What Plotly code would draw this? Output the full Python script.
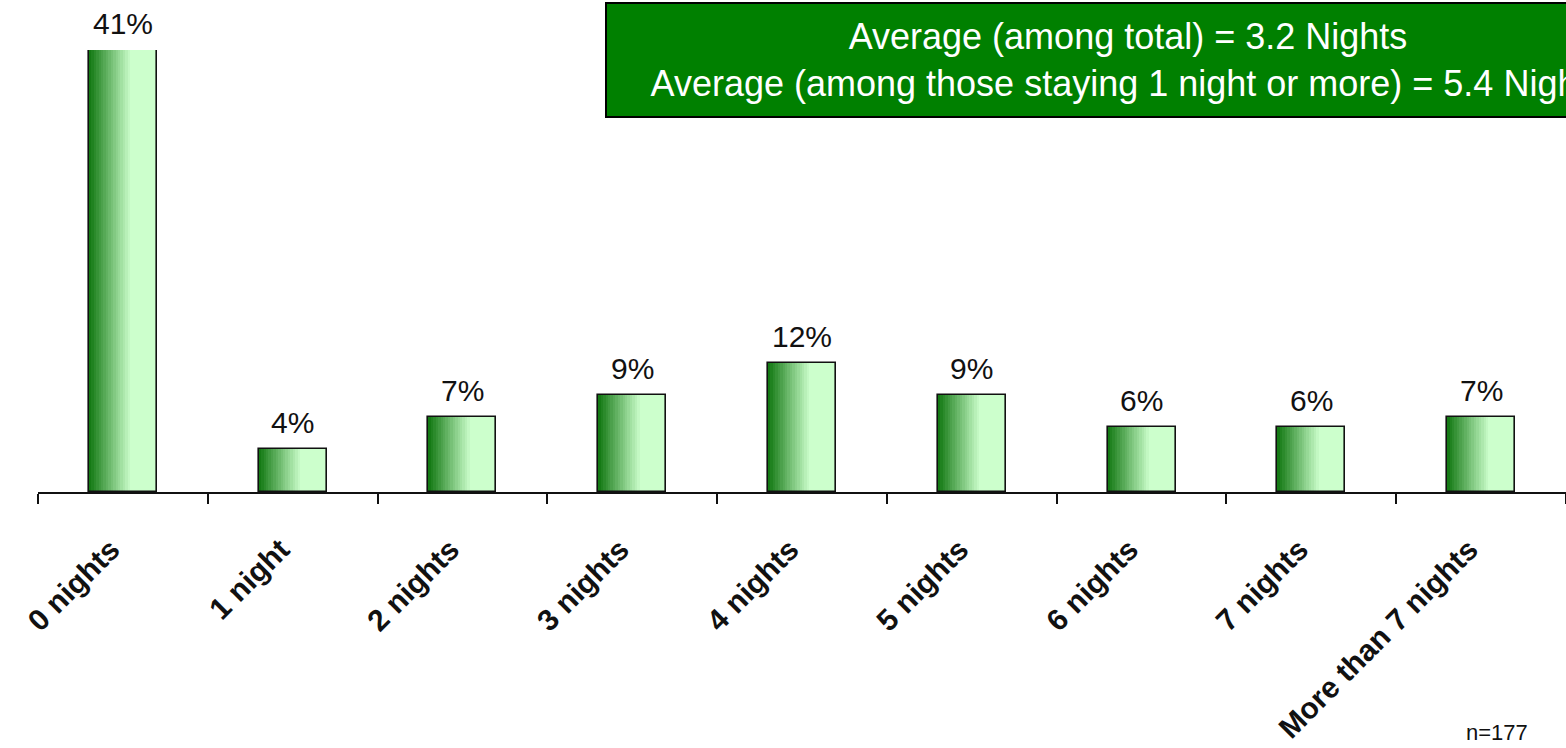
import plotly.graph_objects as go

# Nights stayed — share of respondents (%)
categories = ["0 nights", "1 night", "2 nights", "3 nights", "4 nights",
              "5 nights", "6 nights", "7 nights", "More than 7 nights"]
shares = [41, 4, 7, 9, 12, 9, 6, 6, 7]
value_labels = [f"{v}%" for v in shares]

summary_lines = ["Average (among total) = 3.2 Nights",
                 "Average (among those staying 1 night or more) = 5.4 Nights"]
sample_note = "n=177"

W, H = 1566, 748
M_L, M_R, M_T, M_B = 38, 0, 50, 256
FONT = "Liberation Sans, Arial, sans-serif"

BAR_W = 0.4
N_SLICES = 28
DARK = (16, 118, 16)
LIGHT = (204, 255, 204)
FADE_END = 0.62  # fraction of bar width where the gradient reaches the light tone


def blend(t):
    t = min(t / FADE_END, 1.0)
    r, g, b = (round(d + (l - d) * t) for d, l in zip(DARK, LIGHT))
    return f"rgb({r},{g},{b})"


fig = go.Figure()

# Horizontal gradient fill: thin overlapping bar slices, dark on the left
step = BAR_W / N_SLICES
for i in range(N_SLICES):
    off = -BAR_W / 2 + i * step
    w = min(step * 1.8, BAR_W / 2 - off)
    fig.add_trace(go.Bar(
        x=categories, y=shares, offset=off, width=w,
        marker=dict(color=blend((i + 0.5) / N_SLICES), line=dict(width=0)),
        hoverinfo="skip", showlegend=False,
    ))

# Black outline of each bar
fig.add_trace(go.Bar(
    x=categories, y=shares, offset=-BAR_W / 2, width=BAR_W,
    marker=dict(color="rgba(0,0,0,0)", line=dict(color="#111", width=1.6)),
    showlegend=False,
))

# Percentage labels above bars
for cat, v, lab in zip(categories, shares, value_labels):
    fig.add_annotation(
        x=cat, y=v, xref="x", yref="y", text=lab, showarrow=False,
        yanchor="bottom", yshift=8,
        font=dict(family=FONT, size=30, color="#111"),
    )

plot_w = W - M_L - M_R
plot_h = H - M_T - M_B


def px_x(px):
    return (px - M_L) / plot_w


def px_y(py):
    return (H - M_B - py) / plot_h


# Green summary box (runs past the right edge of the page)
fig.add_annotation(
    xref="paper", yref="paper", x=px_x(605), y=px_y(2),
    xanchor="left", yanchor="top", showarrow=False,
    text="<br>".join(summary_lines), align="center",
    width=1030, height=100, valign="middle",
    bgcolor="#008000", bordercolor="#000", borderwidth=2, borderpad=6,
    font=dict(family=FONT, size=36, color="#fff"),
)

# Sample size note
fig.add_annotation(
    xref="paper", yref="paper", x=px_x(1497), y=px_y(733),
    xanchor="center", yanchor="middle", showarrow=False,
    text=sample_note, font=dict(family=FONT, size=22, color="#111"),
)

fig.update_layout(
    width=W, height=H,
    margin=dict(l=M_L, r=M_R, t=M_T, b=M_B, pad=0),
    barmode="overlay", bargap=0,
    paper_bgcolor="white", plot_bgcolor="white",
    showlegend=False,
    xaxis=dict(
        type="category", tickson="boundaries",
        showline=True, linecolor="#111", linewidth=2,
        ticks="outside", ticklen=10, tickwidth=1.6, tickcolor="#111",
        tickangle=-45, showgrid=False, zeroline=False,
        ticklabelstandoff=26, ticklabelshift=-12,
        tickfont=dict(family=FONT, size=30, color="#111", weight="bold"),
        range=[-0.5, 8.5],
    ),
    yaxis=dict(range=[0, 41], visible=False, showgrid=False, zeroline=False),
)

fig.write_html("out.html")
